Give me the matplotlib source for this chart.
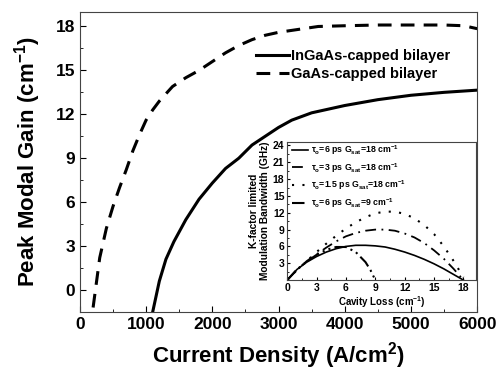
import matplotlib
matplotlib.use('Agg')
import matplotlib.pyplot as plt
from matplotlib.ticker import MultipleLocator

plt.rcParams['font.family'] = ['Liberation Sans', 'DejaVu Sans']
plt.rcParams['font.weight'] = 'bold'
plt.rcParams['mathtext.default'] = 'regular'

# main curves: current density (A/cm2) vs peak modal gain (cm-1)
ingaas_j = [1100, 1200, 1300, 1420, 1600, 1800, 2000, 2200, 2400, 2600, 2800,
            3000, 3200, 3500, 4000, 4500, 5000, 5500, 6000]
ingaas_g = [-1.5, 0.6, 2.1, 3.3, 4.8, 6.2, 7.3, 8.3, 9.0, 9.9, 10.5,
            11.1, 11.6, 12.1, 12.6, 13.0, 13.3, 13.5, 13.65]
gaas_j = [200, 250, 300, 400, 500, 600, 700, 800, 900, 1000, 1100, 1200, 1400,
          1600, 1800, 2000, 2200, 2400, 2600, 2800, 3000, 3300, 3600, 4000,
          4500, 5000, 5500, 5800, 6000]
gaas_g = [-1.2, 0.5, 2.2, 4.2, 5.7, 7.0, 8.2, 9.5, 10.6, 11.6, 12.3, 12.9, 13.9,
          14.5, 15.0, 15.6, 16.2, 16.7, 17.1, 17.4, 17.6, 17.8, 18.0, 18.05,
          18.1, 18.1, 18.1, 18.05, 17.85]

# inset: cavity loss (cm-1) vs K-factor limited bandwidth (GHz)
loss = [0, 1, 2, 3, 4, 5, 6, 7, 8, 9, 10, 11, 12, 13, 14, 15, 16, 17, 18]
bw_6ps = [0, 1.9, 3.2, 4.2, 5.0, 5.6, 6.0, 6.2, 6.2, 6.1, 5.9, 5.5, 5.0, 4.4,
          3.7, 2.9, 2.0, 1.0, 0]
bw_3ps = [0, 1.8, 3.4, 4.6, 5.8, 6.9, 7.8, 8.4, 8.8, 9.0, 9.0, 8.8, 8.3, 7.6,
          6.6, 5.3, 3.8, 2.0, 0]
bw_15ps = [0, 1.8, 3.4, 5.0, 6.5, 7.9, 9.2, 10.3, 11.2, 11.9, 12.2, 12.2, 11.8,
           11.0, 9.8, 8.2, 6.0, 3.4, 0.5]
loss_g9 = [0, 1, 2, 3, 4, 5, 6, 7, 8, 8.5, 9]
bw_g9 = [0, 1.9, 3.3, 4.5, 5.4, 5.9, 5.9, 5.0, 3.2, 1.8, 0]

fig = plt.figure(figsize=(4.96, 3.7), dpi=100)
ax = fig.add_axes([0.161, 0.157, 0.801, 0.811])
ax.plot(ingaas_j, ingaas_g, color='black', lw=2.2, label='InGaAs-capped bilayer')
ax.plot(gaas_j, gaas_g, color='black', lw=2.2, dashes=(4.5, 3), label='GaAs-capped bilayer')
ax.set_xlim(0, 6000)
ax.set_ylim(-1.5, 19)
ax.xaxis.set_major_locator(MultipleLocator(1000))
ax.xaxis.set_minor_locator(MultipleLocator(500))
ax.yaxis.set_major_locator(MultipleLocator(3))
ax.yaxis.set_minor_locator(MultipleLocator(1.5))
ax.tick_params(which='both', direction='in', labelsize=12.5)
ax.tick_params(which='major', length=4)
ax.tick_params(which='minor', length=2)
for s in ax.spines.values():
    s.set_color('#444444')
ax.set_xlabel('Current Density (A/cm$^2$)', fontsize=16, fontweight='bold', labelpad=6)
ax.set_ylabel('Peak Modal Gain (cm$^{-1}$)', fontsize=16, fontweight='bold', labelpad=9)
leg = ax.legend(loc='upper left', bbox_to_anchor=(0.41, 0.92), frameon=False,
                fontsize=10.5, handlelength=2.3, handletextpad=0.1, labelspacing=0.25)

ins = fig.add_axes([0.579, 0.243, 0.381, 0.373])
ins.plot(loss, bw_6ps, color='black', lw=1.2, label=r'$\tau_o$=6 ps G$_{sat}$=18 cm$^{-1}$')
ins.plot(loss, bw_3ps, color='black', lw=1.3, dashes=(6, 3, 1, 3), label=r'$\tau_o$=3 ps G$_{sat}$=18 cm$^{-1}$')
ins.plot(loss, bw_15ps, color='black', lw=1.5, dashes=(1, 4), label=r'$\tau_o$=1.5 ps G$_{sat}$=18 cm$^{-1}$')
ins.plot(loss_g9, bw_g9, color='black', lw=1.5, dashes=(6, 2, 1, 2, 1, 2), label=r'$\tau_o$=6 ps G$_{sat}$=9 cm$^{-1}$')
ins.set_xlim(0, 19.3)
ins.set_ylim(0, 24.6)
ins.set_xticks([0, 3, 6, 9, 12, 15, 18])
ins.set_yticks([3, 6, 9, 12, 15, 18, 21, 24])
ins.xaxis.set_minor_locator(MultipleLocator(1.5))
ins.yaxis.set_minor_locator(MultipleLocator(1.5))
ins.tick_params(which='both', direction='in', labelsize=7.5, pad=2)
ins.tick_params(which='major', length=2.5)
ins.tick_params(which='minor', length=1.2)
for s in ins.spines.values():
    s.set_color('#444444')
ins.set_xlabel('Cavity Loss (cm$^{-1}$)', fontsize=7, fontweight='bold', labelpad=1)
ins.set_ylabel('K-factor limited\nModulation Bandwidth (GHz)', fontsize=7.3,
               fontweight='bold', labelpad=2, linespacing=1.1)
ins.legend(loc='upper left', bbox_to_anchor=(0.0, 1.03), frameon=False, fontsize=6.3,
           handlelength=1.8, handletextpad=0.3, labelspacing=0.45, borderaxespad=0.2)

fig.savefig('out.png', dpi=100)
